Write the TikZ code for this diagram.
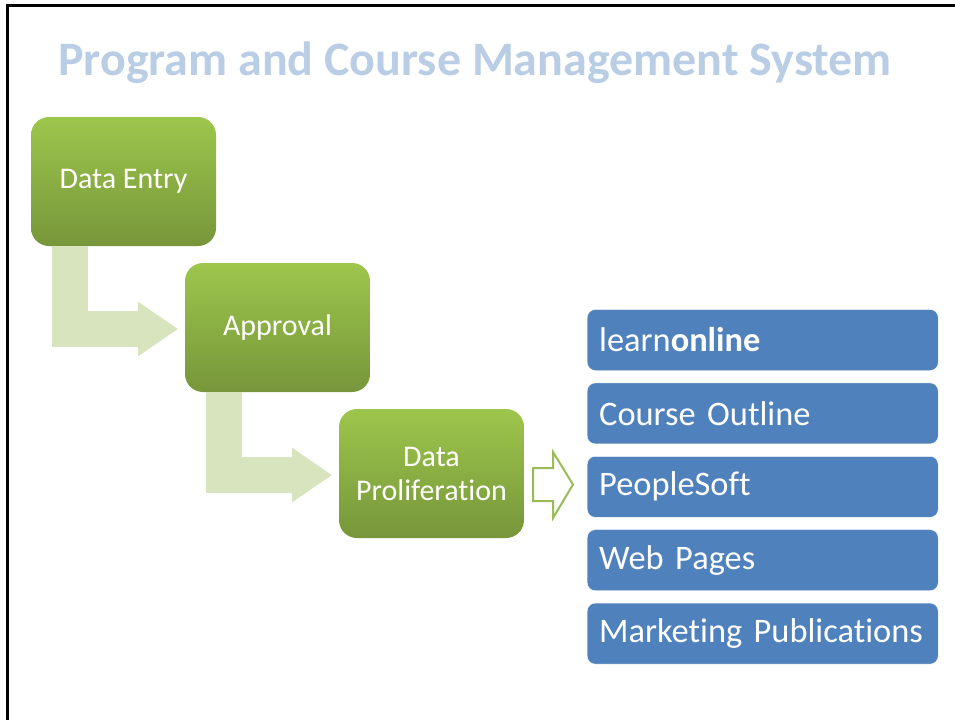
\documentclass[tikz,border=0pt]{standalone}
\usepackage{fontspec}
\setmainfont{Carlito}[Ligatures=NoCommon]
\usepackage{tikz}
\usetikzlibrary{arrows.meta}

\definecolor{titleblue}{HTML}{B9CDE5}
\definecolor{greentop}{HTML}{9DC64C}
\definecolor{greenbot}{HTML}{77963A}
\definecolor{paleGreen}{HTML}{D7E4BD}
\definecolor{listblue}{HTML}{4F81BD}
\definecolor{outlinegreen}{HTML}{9BBB59}

\tikzset{
    stage/.style={rounded corners=18pt, top color=greentop, bottom color=greenbot,
        minimum width=185pt, minimum height=129pt, text=white, align=center,
        font=\fontsize{30}{34}\selectfont},
    target/.style={rounded corners=8pt, fill=listblue, draw=white, anchor=west,
        minimum width=351pt, minimum height=61pt, text width=327pt, inner xsep=12pt,
        align=left, text=white, font=\fontsize{34.4}{38}\selectfont},
    elbow/.style={draw=paleGreen, line width=36pt, line join=miter,
        -{Triangle[length=40pt,width=55pt,line width=0pt]}},
    hollow/.style={draw=outlinegreen, line width=2pt, fill=white, line join=miter}
}

\begin{document}
\begin{tikzpicture}[x=1pt, y=-1pt]
        \useasboundingbox (0,0) rectangle (955,720);
        % slide frame
        \draw[line width=3pt] (955,5) -- (7,5) -- (7,720);

        % title
        \node[anchor=base west, inner sep=0pt, text=titleblue,
            font=\fontsize{48}{56}\selectfont\bfseries] (title) at (58,75)
            {Program and Course Management System};

        % stages
        \node[stage] (entry) at (123.5,181.5) {Data Entry};
        \node[stage] (approval) at (277.5,327.5) {Approval};
        \node[stage] (prolif) at (431.5,473.5) {Data\\Proliferation};

        % bent arrows between stages
        \draw[elbow] ([xshift=-53.5pt]entry.south) |- ([xshift=-7pt,yshift=-1.5pt]approval.west);
        \draw[elbow] ([xshift=-53.5pt]approval.south) |- ([xshift=-7pt,yshift=-1.5pt]prolif.west);

        % hollow arrow
        \coordinate (hs) at (533,468);
        \draw[hollow] (hs) -- ++(20,0) -- ++(0,-16) -- ++(20,32.5) -- ++(-20,33.5)
            -- ++(0,-17) -- ++(-20,0) -- cycle;

        % target list
        \foreach \lbl [count=\i] in {learn\textbf{online}, Course Outline, PeopleSoft,
            Web Pages, Marketing Publications}
            \node[target] (t\i) at (587,{340+73.4*(\i-1)}) {\lbl};
    \end{tikzpicture}
\end{document}
